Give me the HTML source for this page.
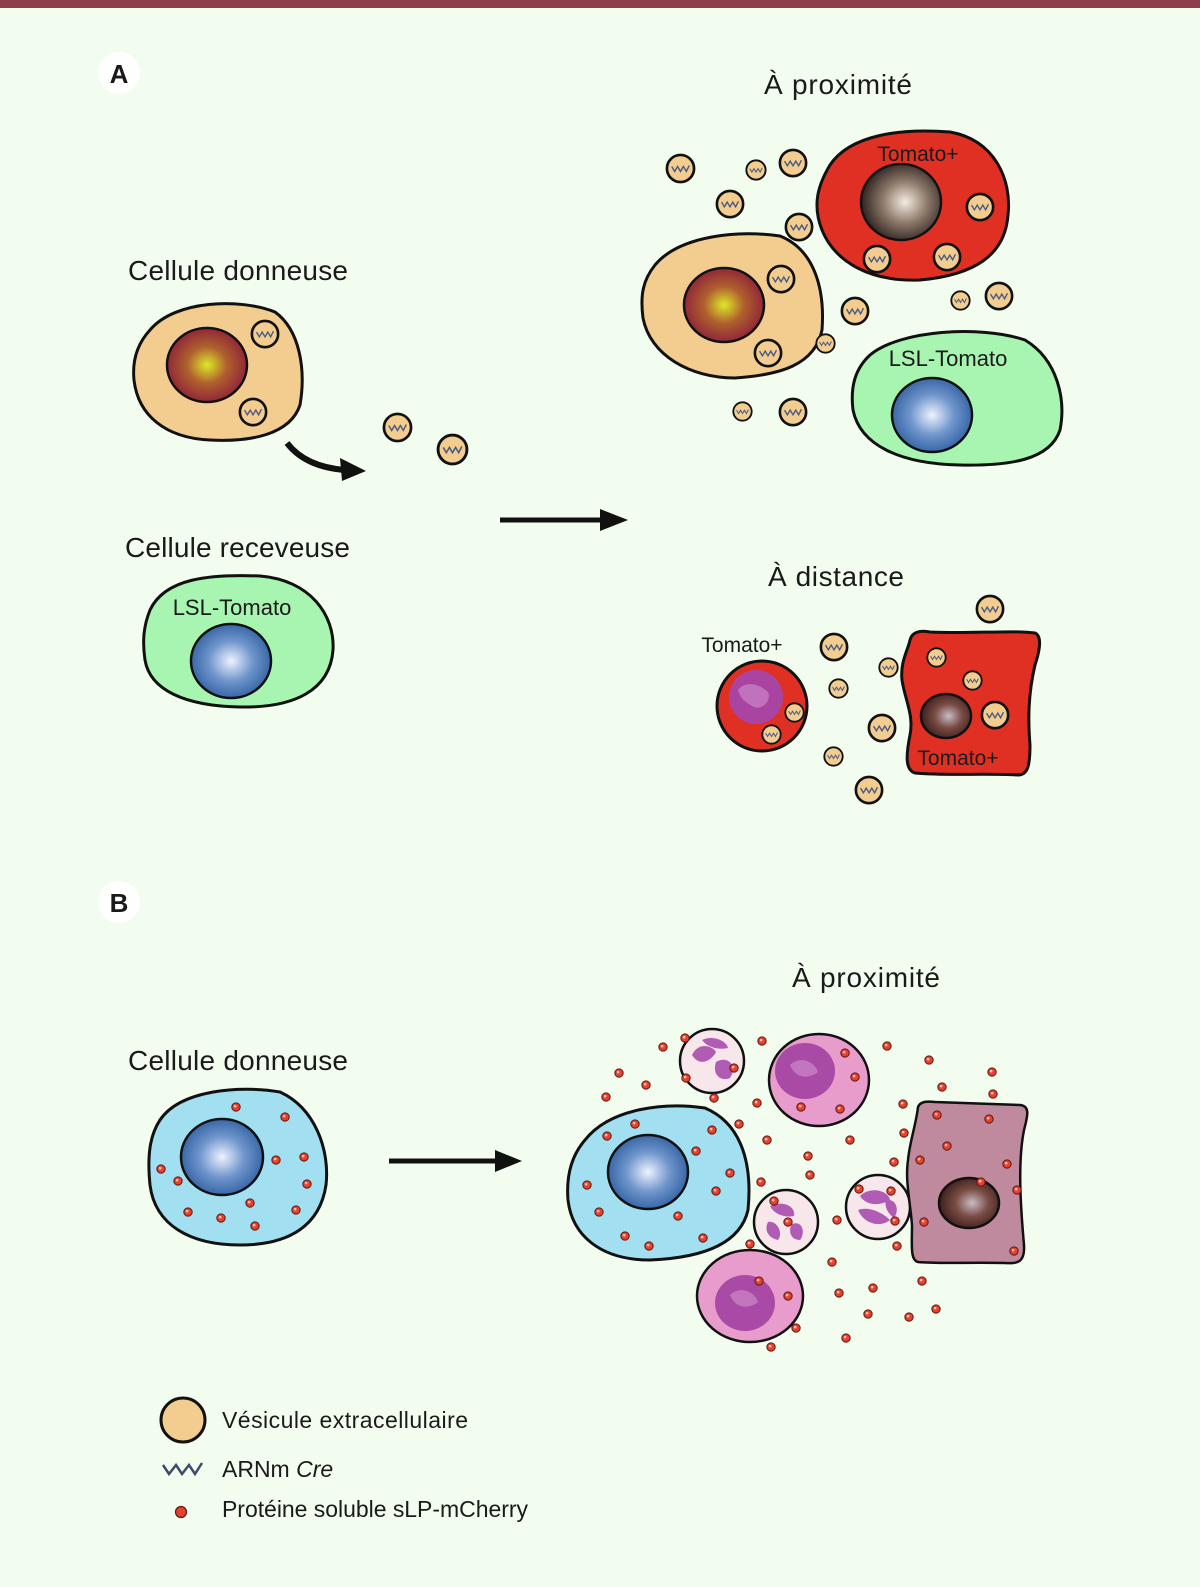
<!DOCTYPE html>
<html><head><meta charset="utf-8"><style>
html,body{margin:0;padding:0;background:#f2fdef;}
svg{display:block;}
text{font-family:"Liberation Sans",sans-serif;fill:#1a1a1a;}
</style></head><body>
<svg width="1200" height="1587" viewBox="0 0 1200 1587" xmlns="http://www.w3.org/2000/svg">
<defs>
<radialGradient id="gy" cx="0.5" cy="0.5" r="0.55"><stop offset="0" stop-color="#dde82a"/><stop offset="0.45" stop-color="#b0602e"/><stop offset="1" stop-color="#8a1c3a"/></radialGradient>
<radialGradient id="gb" cx="0.5" cy="0.5" r="0.55"><stop offset="0" stop-color="#eef2ff"/><stop offset="0.5" stop-color="#6f95cc"/><stop offset="1" stop-color="#2d5d9e"/></radialGradient>
<radialGradient id="gw" cx="0.55" cy="0.5" r="0.55"><stop offset="0" stop-color="#f4ece2"/><stop offset="0.5" stop-color="#8f7b6c"/><stop offset="1" stop-color="#2e2220"/></radialGradient>
<radialGradient id="gm" cx="0.55" cy="0.5" r="0.55"><stop offset="0" stop-color="#c8bcc4"/><stop offset="0.5" stop-color="#7a4c45"/><stop offset="1" stop-color="#3e201c"/></radialGradient>
<symbol id="v" viewBox="-16 -16 32 32" overflow="visible">
<circle r="14" fill="#f3cc8f" stroke="#111" stroke-width="2.8"/>
<path d="M-9,-2 L-6,3 L-3,-2 L0,3 L3,-2 L6,3 L9,-3" fill="none" stroke="#4a5a80" stroke-width="1.5"/>
</symbol>
<symbol id="d" viewBox="-6 -6 12 12" overflow="visible">
<circle r="5" fill="#e8402f" stroke="#5a1a12" stroke-width="1.2"/><circle cx="-1" cy="-1" r="1.6" fill="#fbc0b0"/>
</symbol>
</defs>
<rect width="1200" height="1587" fill="#f2fdef"/>
<rect width="1200" height="8" fill="#8c3e4c"/>

<!-- A -->
<circle cx="119" cy="73" r="21" fill="#fff"/>
<text x="119" y="83" font-size="26" font-weight="bold" text-anchor="middle">A</text>
<text x="128" y="280" font-size="28" textLength="220">Cellule donneuse</text>
<path d="M150,330 C175,300 240,298 275,312 C300,330 306,370 300,405 C290,435 250,442 210,440 C165,438 138,415 134,380 C132,360 138,343 150,330 Z" fill="#f3cc8f" stroke="#111" stroke-width="3"/>
<ellipse cx="207" cy="365" rx="40" ry="37" fill="url(#gy)" stroke="#111" stroke-width="2.5"/>
<use href="#v" x="250" y="319" width="30" height="30"/>
<use href="#v" x="238" y="397" width="30" height="30"/>
<path d="M287,443 C300,460 320,468 345,470" fill="none" stroke="#111" stroke-width="6"/>
<path d="M340,458 L366,471 L342,481 Z" fill="#111"/>
<use href="#v" x="382" y="412" width="31" height="31"/>
<use href="#v" x="436" y="433" width="33" height="33"/>

<text x="125" y="557" font-size="28" textLength="225">Cellule receveuse</text>
<path d="M150,610 C165,578 210,574 260,576 C310,580 335,615 333,650 C330,690 295,708 240,707 C185,706 150,690 145,660 C142,640 144,625 150,610 Z" fill="#a8f5b2" stroke="#111" stroke-width="3"/>
<text x="232" y="615" font-size="22" text-anchor="middle">LSL-Tomato</text>
<ellipse cx="231" cy="661" rx="40" ry="37" fill="url(#gb)" stroke="#111" stroke-width="2.5"/>

<path d="M500,520 L605,520" stroke="#111" stroke-width="5"/>
<path d="M600,509 L628,520 L600,531 Z" fill="#111"/>

<text x="838" y="94" font-size="28" text-anchor="middle" textLength="148">À proximité</text>
<use href="#v" x="665" y="153" width="31" height="31"/>
<use href="#v" x="745" y="159" width="22" height="22"/>
<use href="#v" x="778" y="148" width="30" height="30"/>
<use href="#v" x="715" y="189" width="30" height="30"/>
<use href="#v" x="784" y="212" width="30" height="30"/>
<path d="M830,165 C850,135 900,128 950,132 C995,140 1012,180 1008,215 C1005,255 975,275 920,280 C870,282 835,262 822,230 C812,205 818,185 830,165 Z" fill="#e03024" stroke="#111" stroke-width="3"/>
<text x="918" y="161" font-size="21" text-anchor="middle">Tomato+</text>
<ellipse cx="901" cy="202" rx="40" ry="38" fill="url(#gw)" stroke="#111" stroke-width="2.5"/>
<use href="#v" x="965" y="192" width="30" height="30"/>
<use href="#v" x="862" y="244" width="30" height="30"/>
<use href="#v" x="932" y="242" width="30" height="30"/>
<path d="M655,265 C680,235 740,230 780,236 C815,250 825,290 822,330 C815,365 780,375 735,378 C690,378 650,355 643,318 C640,295 643,280 655,265 Z" fill="#f3cc8f" stroke="#111" stroke-width="3"/>
<ellipse cx="724" cy="305" rx="40" ry="37" fill="url(#gy)" stroke="#111" stroke-width="2.5"/>
<use href="#v" x="766" y="264" width="30" height="30"/>
<use href="#v" x="753" y="338" width="30" height="30"/>
<use href="#v" x="840" y="296" width="30" height="30"/>
<use href="#v" x="815" y="333" width="21" height="21"/>
<use href="#v" x="950" y="290" width="21" height="21"/>
<use href="#v" x="984" y="281" width="30" height="30"/>
<use href="#v" x="732" y="401" width="21" height="21"/>
<use href="#v" x="778" y="397" width="30" height="30"/>
<path d="M870,355 C900,330 980,325 1025,340 C1058,360 1066,400 1060,430 C1050,460 1010,466 960,465 C900,464 860,445 853,410 C850,385 856,368 870,355 Z" fill="#a8f5b2" stroke="#111" stroke-width="3"/>
<text x="948" y="366" font-size="22" text-anchor="middle">LSL-Tomato</text>
<ellipse cx="932" cy="415" rx="40" ry="37" fill="url(#gb)" stroke="#111" stroke-width="2.5"/>

<text x="836" y="586" font-size="28" text-anchor="middle" textLength="136">À distance</text>
<use href="#v" x="975" y="594" width="30" height="30"/>
<use href="#v" x="819" y="632" width="30" height="30"/>
<use href="#v" x="828" y="678" width="21" height="21"/>
<use href="#v" x="878" y="657" width="21" height="21"/>
<use href="#v" x="867" y="713" width="30" height="30"/>
<use href="#v" x="823" y="746" width="21" height="21"/>
<use href="#v" x="854" y="775" width="30" height="30"/>
<text x="742" y="652" font-size="21" text-anchor="middle">Tomato+</text>
<circle cx="762" cy="706" r="45" fill="#e03024" stroke="#111" stroke-width="3"/>
<circle cx="756" cy="697" r="27" fill="#a944a0"/>
<path d="M738,690 C745,680 760,684 768,692 C772,700 762,712 752,706 C745,702 740,698 738,690 Z" fill="#c57ec4" opacity="0.8"/>
<use href="#v" x="784" y="702" width="21" height="21"/>
<use href="#v" x="761" y="724" width="21" height="21"/>
<path d="M910,640 C912,632 920,630 930,632 C970,634 1010,630 1035,633 C1042,636 1040,650 1035,665 C1028,695 1028,720 1030,745 C1030,765 1028,775 1018,775 C980,773 950,776 915,773 C905,770 906,755 910,735 C914,715 905,700 902,680 C900,662 908,650 910,640 Z" fill="#e03024" stroke="#111" stroke-width="3"/>
<ellipse cx="946" cy="716" rx="25" ry="22" fill="url(#gm)" stroke="#111" stroke-width="2.5"/>
<use href="#v" x="926" y="647" width="21" height="21"/>
<use href="#v" x="962" y="670" width="21" height="21"/>
<use href="#v" x="980" y="700" width="30" height="30"/>
<text x="958" y="765" font-size="21" text-anchor="middle">Tomato+</text>

<!-- B -->
<circle cx="119" cy="902" r="21" fill="#fff"/>
<text x="119" y="912" font-size="26" font-weight="bold" text-anchor="middle">B</text>
<text x="866" y="987" font-size="28" text-anchor="middle" textLength="148">À proximité</text>
<text x="128" y="1070" font-size="28" textLength="220">Cellule donneuse</text>
<path d="M160,1120 C180,1090 240,1085 280,1092 C315,1108 330,1150 326,1185 C320,1225 290,1245 240,1245 C190,1245 155,1225 150,1185 C147,1155 150,1135 160,1120 Z" fill="#a2dff0" stroke="#111" stroke-width="3"/>
<ellipse cx="222" cy="1157" rx="41" ry="38" fill="url(#gb)" stroke="#111" stroke-width="2.5"/>
<g>
<use href="#d" x="231" y="1102" width="10" height="10"/><use href="#d" x="280" y="1112" width="10" height="10"/>
<use href="#d" x="156" y="1164" width="10" height="10"/><use href="#d" x="173" y="1176" width="10" height="10"/>
<use href="#d" x="271" y="1155" width="10" height="10"/><use href="#d" x="299" y="1152" width="10" height="10"/>
<use href="#d" x="302" y="1179" width="10" height="10"/><use href="#d" x="183" y="1207" width="10" height="10"/>
<use href="#d" x="216" y="1213" width="10" height="10"/><use href="#d" x="245" y="1198" width="10" height="10"/>
<use href="#d" x="291" y="1205" width="10" height="10"/><use href="#d" x="250" y="1221" width="10" height="10"/>
</g>
<path d="M389,1161 L500,1161" stroke="#111" stroke-width="5"/>
<path d="M495,1150 L522,1161 L495,1172 Z" fill="#111"/>

<!-- right B -->
<path d="M585,1140 C610,1108 665,1102 705,1108 C745,1125 752,1170 748,1210 C740,1245 700,1258 650,1260 C600,1260 572,1235 568,1200 C566,1175 572,1155 585,1140 Z" fill="#a2dff0" stroke="#111" stroke-width="3"/>
<ellipse cx="648" cy="1172" rx="40" ry="37" fill="url(#gb)" stroke="#111" stroke-width="2.5"/>
<g stroke="#111" stroke-width="2.5">
<circle cx="712" cy="1061" r="32" fill="#f7e6ea"/>
<circle cx="786" cy="1222" r="32" fill="#f7e6ea"/>
<circle cx="878" cy="1207" r="32" fill="#f7e6ea"/>
<ellipse cx="819" cy="1080" rx="50" ry="46" fill="#e89ccb"/>
<ellipse cx="750" cy="1296" rx="53" ry="46" fill="#e89ccb"/>
<path d="M918,1107 C920,1102 925,1101 935,1102 L1020,1105 C1030,1106 1028,1115 1024,1130 C1018,1160 1020,1200 1024,1245 C1025,1262 1018,1264 1005,1263 C970,1262 940,1264 918,1262 C910,1260 912,1245 912,1225 C910,1200 905,1180 908,1160 C910,1140 916,1125 918,1107 Z" fill="#c08a9e"/>
</g>
<g fill="#b05cb5">
<path d="M692,1055 C698,1042 712,1045 716,1052 C712,1060 700,1068 692,1055Z"/>
<path d="M716,1062 C728,1055 738,1066 730,1078 C720,1082 712,1074 716,1062Z"/>
<path d="M702,1040 C712,1035 726,1040 728,1048 C720,1050 708,1048 702,1040Z"/>
<path d="M770,1206 C782,1200 796,1206 794,1216 C784,1218 774,1214 770,1206Z"/>
<path d="M768,1222 C776,1220 784,1232 778,1240 C768,1238 764,1230 768,1222Z"/>
<path d="M792,1224 C802,1220 806,1232 800,1240 C790,1240 788,1230 792,1224Z"/>
<path d="M860,1196 C870,1186 888,1190 890,1200 C880,1206 866,1206 860,1196Z"/>
<path d="M858,1210 C868,1206 882,1212 890,1220 C880,1228 864,1224 858,1210Z"/>
<path d="M886,1200 C896,1198 900,1210 894,1218 C888,1214 884,1206 886,1200Z"/>
<ellipse cx="805" cy="1071" rx="30" ry="28" fill="#a84aa6"/>
<ellipse cx="745" cy="1303" rx="30" ry="28" fill="#a84aa6"/>
</g>
<g fill="#c781c4" opacity="0.8">
<path d="M790,1065 C800,1055 815,1062 818,1072 C808,1080 795,1078 790,1065Z"/>
<path d="M730,1295 C740,1285 755,1292 758,1302 C748,1310 735,1308 730,1295Z"/>
</g>
<ellipse cx="969" cy="1203" rx="30" ry="25" fill="url(#gm)" stroke="#111" stroke-width="2.5"/>
<g>
<use href="#d" x="680" y="1033" width="10" height="10"/><use href="#d" x="658" y="1042" width="10" height="10"/>
<use href="#d" x="614" y="1068" width="10" height="10"/><use href="#d" x="641" y="1080" width="10" height="10"/>
<use href="#d" x="601" y="1092" width="10" height="10"/><use href="#d" x="757" y="1036" width="10" height="10"/>
<use href="#d" x="882" y="1041" width="10" height="10"/><use href="#d" x="924" y="1055" width="10" height="10"/>
<use href="#d" x="987" y="1067" width="10" height="10"/><use href="#d" x="937" y="1082" width="10" height="10"/>
<use href="#d" x="988" y="1089" width="10" height="10"/><use href="#d" x="898" y="1099" width="10" height="10"/>
<use href="#d" x="932" y="1110" width="10" height="10"/><use href="#d" x="984" y="1114" width="10" height="10"/>
<use href="#d" x="729" y="1063" width="10" height="10"/><use href="#d" x="681" y="1073" width="10" height="10"/>
<use href="#d" x="709" y="1093" width="10" height="10"/><use href="#d" x="840" y="1048" width="10" height="10"/>
<use href="#d" x="850" y="1072" width="10" height="10"/><use href="#d" x="796" y="1102" width="10" height="10"/>
<use href="#d" x="835" y="1104" width="10" height="10"/><use href="#d" x="752" y="1098" width="10" height="10"/>
<use href="#d" x="734" y="1119" width="10" height="10"/><use href="#d" x="762" y="1135" width="10" height="10"/>
<use href="#d" x="845" y="1135" width="10" height="10"/><use href="#d" x="899" y="1128" width="10" height="10"/>
<use href="#d" x="942" y="1141" width="10" height="10"/><use href="#d" x="915" y="1155" width="10" height="10"/>
<use href="#d" x="889" y="1157" width="10" height="10"/><use href="#d" x="1002" y="1159" width="10" height="10"/>
<use href="#d" x="803" y="1151" width="10" height="10"/><use href="#d" x="805" y="1170" width="10" height="10"/>
<use href="#d" x="756" y="1177" width="10" height="10"/><use href="#d" x="976" y="1177" width="10" height="10"/>
<use href="#d" x="1012" y="1185" width="10" height="10"/><use href="#d" x="854" y="1184" width="10" height="10"/>
<use href="#d" x="886" y="1186" width="10" height="10"/><use href="#d" x="769" y="1196" width="10" height="10"/>
<use href="#d" x="783" y="1217" width="10" height="10"/><use href="#d" x="832" y="1215" width="10" height="10"/>
<use href="#d" x="890" y="1216" width="10" height="10"/><use href="#d" x="919" y="1217" width="10" height="10"/>
<use href="#d" x="745" y="1239" width="10" height="10"/><use href="#d" x="892" y="1241" width="10" height="10"/>
<use href="#d" x="1009" y="1246" width="10" height="10"/><use href="#d" x="827" y="1257" width="10" height="10"/>
<use href="#d" x="917" y="1276" width="10" height="10"/><use href="#d" x="868" y="1283" width="10" height="10"/>
<use href="#d" x="834" y="1288" width="10" height="10"/><use href="#d" x="863" y="1309" width="10" height="10"/>
<use href="#d" x="904" y="1312" width="10" height="10"/><use href="#d" x="931" y="1304" width="10" height="10"/>
<use href="#d" x="841" y="1333" width="10" height="10"/><use href="#d" x="754" y="1276" width="10" height="10"/>
<use href="#d" x="783" y="1291" width="10" height="10"/><use href="#d" x="791" y="1323" width="10" height="10"/>
<use href="#d" x="766" y="1342" width="10" height="10"/>
<use href="#d" x="630" y="1119" width="10" height="10"/><use href="#d" x="602" y="1131" width="10" height="10"/>
<use href="#d" x="707" y="1125" width="10" height="10"/><use href="#d" x="691" y="1146" width="10" height="10"/>
<use href="#d" x="725" y="1168" width="10" height="10"/><use href="#d" x="711" y="1186" width="10" height="10"/>
<use href="#d" x="582" y="1180" width="10" height="10"/><use href="#d" x="594" y="1207" width="10" height="10"/>
<use href="#d" x="673" y="1211" width="10" height="10"/><use href="#d" x="620" y="1231" width="10" height="10"/>
<use href="#d" x="644" y="1241" width="10" height="10"/><use href="#d" x="698" y="1233" width="10" height="10"/>
</g>

<!-- legend -->
<circle cx="183" cy="1420" r="22" fill="#f3cc8f" stroke="#111" stroke-width="3"/>
<text x="222" y="1428" font-size="23" textLength="246">Vésicule extracellulaire</text>
<path d="M163,1465 L169,1474 L176,1465 L182,1474 L189,1465 L195,1474 L202,1463" fill="none" stroke="#3d4a70" stroke-width="2.5"/>
<text x="222" y="1477" font-size="23">ARNm <tspan font-style="italic">Cre</tspan></text>
<circle cx="181" cy="1512" r="5.5" fill="#e8402f" stroke="#5a1a12" stroke-width="1.2"/>
<text x="222" y="1517" font-size="23" textLength="306">Protéine soluble sLP-mCherry</text>
</svg>
</body></html>
